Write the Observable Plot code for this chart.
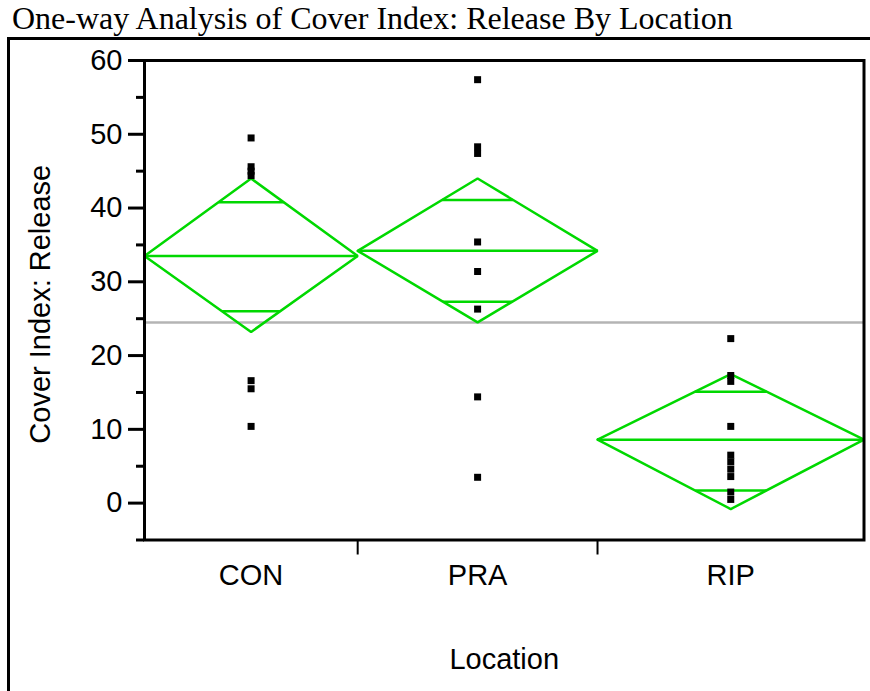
<!DOCTYPE html>
<html>
<head>
<meta charset="utf-8">
<script src="https://cdn.jsdelivr.net/npm/d3@7"></script>
<script src="https://cdn.jsdelivr.net/npm/@observablehq/plot@0.6"></script>
<style>
  body { margin: 0; background: white; }
  #wrap { position: relative; width: 870px; height: 691px; overflow: hidden; background: white; }
  #chart { position: absolute; left: 0; top: 0; }
  #outer { position: absolute; left: 7px; top: 37px; width: 900px; height: 700px;
           border-top: 3px solid #000; border-left: 3px solid #000; pointer-events: none; }
  #title { position: absolute; left: 0; top: 0; overflow: visible; }
</style>
</head>
<body>
<div id="wrap">
  <div id="chart"></div>
  <div id="outer"></div>
  <svg id="title" width="870" height="44">
    <text x="12" y="28.6" font-family="Liberation Serif, Times New Roman, serif" font-size="32" fill="#000">One-way Analysis of Cover Index: Release By Location</text>
  </svg>
</div>
<script>
// ---- data ----
const groups = ["CON", "PRA", "RIP"];
const counts = [8, 9, 10];               // group sizes (set the group widths)
const conValues = [49.5, 45.6, 45.0, 44.4, 16.6, 15.5, 10.4];
const praValues = [57.4, 48.3, 47.4, 35.4, 31.4, 26.3, 14.4, 3.5];
const ripValues = [22.3, 17.3, 16.5, 10.4, 6.5, 5.6, 4.6, 3.6, 1.5, 0.5];
const means = [33.5, 34.2, 8.6];
const ciUpper = [44.0, 44.0, 17.5];
const ciLower = [23.2, 24.5, -0.8];
const overlapUpper = [40.8, 41.1, 15.1];
const overlapLower = [26.0, 27.3, 1.7];
const grandMean = 24.5;
const yTicks = [0, 10, 20, 30, 40, 50, 60];
const yMinorTicks = [-5, 5, 15, 25, 35, 45, 55];
const xLabel = "Location";
const yLabel = "Cover Index: Release";

// ---- derived tables ----
const valuesByGroup = [conValues, praValues, ripValues];
const cum = [0];
counts.forEach(c => cum.push(cum[cum.length - 1] + c));
const total = cum[cum.length - 1];
const groupRows = groups.map((g, i) => ({
  group: g, x0: cum[i], x1: cum[i + 1], xm: (cum[i] + cum[i + 1]) / 2,
  mean: means[i], up: ciUpper[i], lo: ciLower[i], ovU: overlapUpper[i], ovL: overlapLower[i]
}));
const diamondRows = groupRows.flatMap(r => [
  {group: r.group, x: r.x0, y: r.mean},
  {group: r.group, x: r.xm, y: r.up},
  {group: r.group, x: r.x1, y: r.mean},
  {group: r.group, x: r.xm, y: r.lo},
  {group: r.group, x: r.x0, y: r.mean}
]);
const overlapRows = groupRows.flatMap(r => {
  const half = (r.x1 - r.x0) / 2;
  const hwU = (1 - (r.ovU - r.mean) / (r.up - r.mean)) * half;
  const hwL = (1 - (r.mean - r.ovL) / (r.mean - r.lo)) * half;
  return [
    {x1: r.xm - hwU, x2: r.xm + hwU, y: r.ovU},
    {x1: r.xm - hwL, x2: r.xm + hwL, y: r.ovL}
  ];
});
const pointRows = groupRows.flatMap((r, i) => valuesByGroup[i].map(v => ({group: r.group, x: r.xm, y: v})));
const boundaries = cum.slice(1, -1);

const green = "#00d800";

const chart = Plot.plot({
  width: 870,
  height: 691,
  marginLeft: 144,
  marginRight: 6.5,
  marginTop: 60,
  marginBottom: 151.5,
  style: {fontFamily: "Liberation Sans, Arial, sans-serif", fontSize: "29px", background: "white", color: "black"},
  x: {type: "linear", domain: [0, total]},
  y: {domain: [-5, 60]},
  marks: [
    Plot.ruleY([grandMean], {stroke: "#b4b4b4", strokeWidth: 2.5}),
    Plot.line(diamondRows, {x: "x", y: "y", z: "group", stroke: green, strokeWidth: 2.5, strokeLinejoin: "miter"}),
    Plot.link(groupRows, {x1: "x0", x2: "x1", y1: "mean", y2: "mean", stroke: green, strokeWidth: 2.5}),
    Plot.link(overlapRows, {x1: "x1", x2: "x2", y1: "y", y2: "y", stroke: green, strokeWidth: 2.5}),
    Plot.dot(pointRows, {x: "x", y: "y", symbol: "square", r: 3.95, fill: "black"}),
    Plot.frame({stroke: "black", strokeWidth: 3}),
    Plot.axisY(yTicks, {tickSize: 16, tickPadding: 6, fontSize: 29, strokeWidth: 3, label: null}),
    Plot.axisY(yMinorTicks, {tickSize: 8, tickFormat: () => "", strokeWidth: 3, label: null}),
    Plot.axisX(boundaries, {tickSize: 15, tickFormat: () => "", strokeWidth: 2, label: null}),
    Plot.text(groupRows, {x: "xm", text: "group", frameAnchor: "bottom", dy: 36, textAnchor: "middle", lineAnchor: "middle", fontSize: 29}),
    Plot.text([xLabel], {text: d => d, frameAnchor: "bottom", dy: 120, textAnchor: "middle", lineAnchor: "middle", fontSize: 29}),
    Plot.text([yLabel], {text: d => d, frameAnchor: "left", dx: -104, dy: 4, rotate: -90, textAnchor: "middle", lineAnchor: "middle", fontSize: 29})
  ]
});
document.getElementById("chart").appendChild(chart);
</script>
</body>
</html>
